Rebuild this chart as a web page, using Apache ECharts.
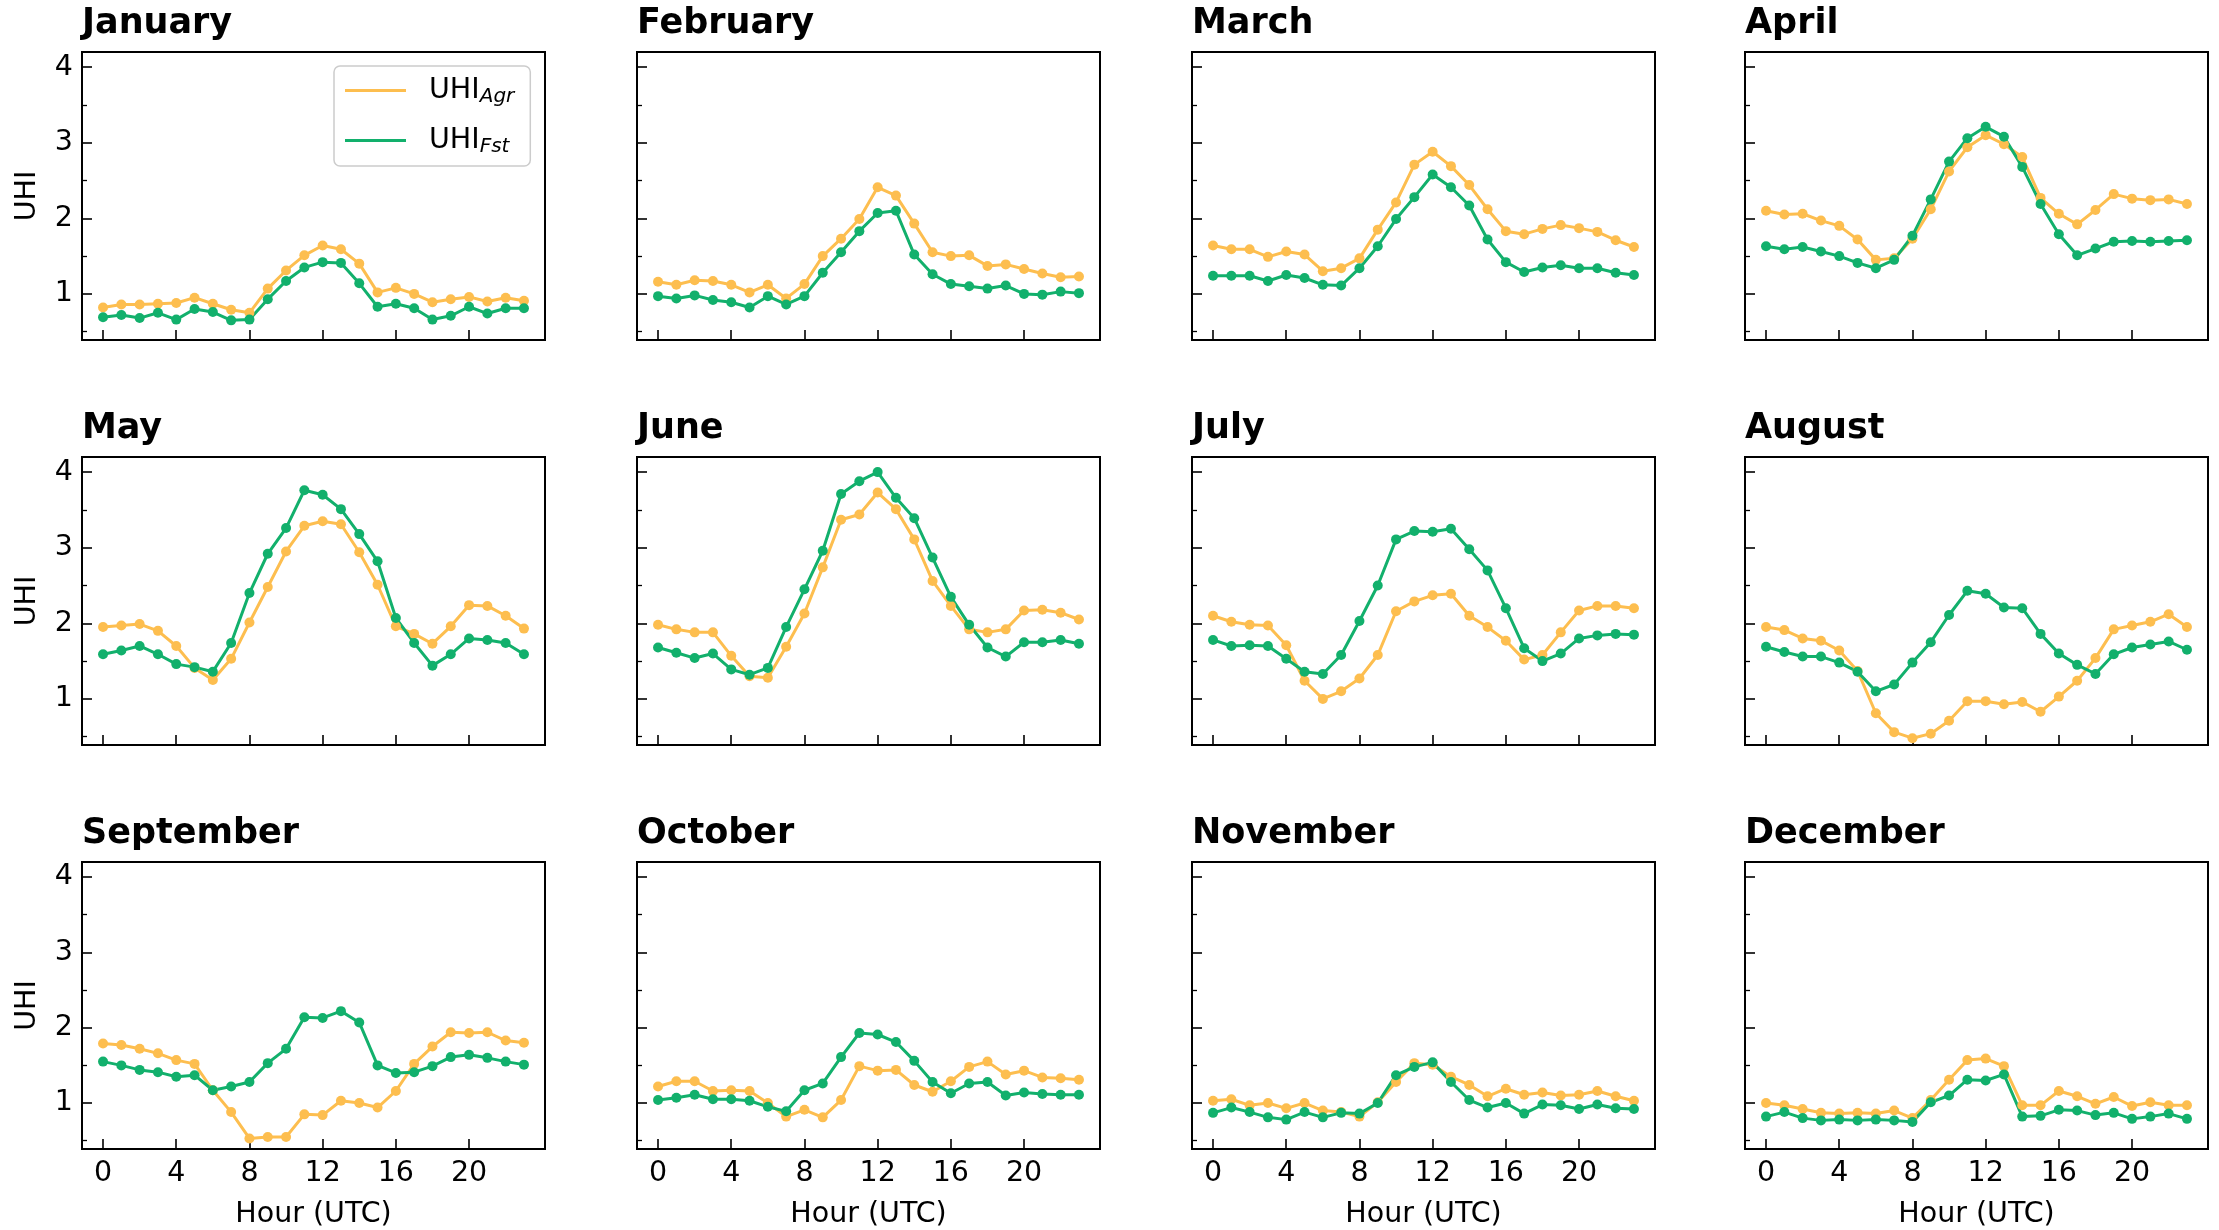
<!DOCTYPE html>
<html><head><meta charset="utf-8">
<script src="https://cdn.jsdelivr.net/npm/echarts@6/dist/echarts.min.js"></script>
<style>html,body{margin:0;padding:0;background:#fff}#c{width:2219px;height:1230px}</style>
</head><body><div id="c"></div>
<script>
const hours = [0,1,2,3,4,5,6,7,8,9,10,11,12,13,14,15,16,17,18,19,20,21,22,23];
const months = ['January','February','March','April','May','June','July','August','September','October','November','December'];
const xTickValues = [0,4,8,12,16,20];
const yTickValues = [1,2,3,4];
const yMinorTickValues = [0.5,1.5,2.5,3.5];

const agrJan = [0.82,0.86,0.86,0.87,0.88,0.95,0.87,0.79,0.75,1.07,1.31,1.51,1.64,1.59,1.40,1.02,1.08,1.00,0.89,0.93,0.96,0.90,0.95,0.91];
const fstJan = [0.69,0.72,0.68,0.75,0.66,0.80,0.76,0.65,0.66,0.93,1.17,1.35,1.42,1.41,1.14,0.83,0.87,0.81,0.66,0.71,0.83,0.74,0.81,0.81];
const agrFeb = [1.16,1.12,1.18,1.17,1.12,1.02,1.12,0.94,1.13,1.50,1.73,1.99,2.41,2.30,1.93,1.55,1.50,1.51,1.37,1.39,1.33,1.27,1.22,1.23];
const fstFeb = [0.97,0.94,0.98,0.92,0.89,0.82,0.97,0.86,0.97,1.28,1.55,1.83,2.07,2.10,1.52,1.26,1.13,1.10,1.07,1.11,1.00,0.99,1.03,1.01];
const agrMar = [1.64,1.59,1.59,1.49,1.56,1.52,1.30,1.34,1.47,1.85,2.21,2.71,2.88,2.69,2.44,2.12,1.83,1.79,1.86,1.91,1.87,1.82,1.71,1.62];
const fstMar = [1.24,1.24,1.24,1.17,1.25,1.21,1.12,1.11,1.34,1.63,1.99,2.28,2.58,2.41,2.17,1.72,1.42,1.29,1.35,1.38,1.34,1.34,1.28,1.25];
const agrApr = [2.10,2.05,2.06,1.97,1.90,1.72,1.45,1.47,1.73,2.12,2.62,2.94,3.10,2.98,2.81,2.27,2.06,1.92,2.11,2.32,2.26,2.24,2.25,2.19];
const fstApr = [1.63,1.59,1.62,1.56,1.50,1.41,1.34,1.45,1.77,2.25,2.75,3.06,3.21,3.08,2.68,2.19,1.79,1.51,1.60,1.69,1.70,1.69,1.70,1.71];
const agrMay = [1.95,1.97,1.99,1.90,1.70,1.41,1.25,1.53,2.01,2.48,2.95,3.29,3.35,3.31,2.94,2.51,1.96,1.86,1.73,1.96,2.24,2.23,2.10,1.93];
const fstMay = [1.59,1.64,1.70,1.59,1.46,1.42,1.36,1.74,2.40,2.92,3.26,3.76,3.70,3.51,3.18,2.82,2.07,1.74,1.44,1.59,1.80,1.78,1.74,1.59];
const agrJun = [1.98,1.92,1.88,1.88,1.57,1.30,1.28,1.69,2.13,2.74,3.37,3.44,3.73,3.51,3.11,2.56,2.23,1.92,1.88,1.92,2.17,2.18,2.14,2.05];
const fstJun = [1.68,1.61,1.54,1.60,1.39,1.32,1.41,1.95,2.45,2.96,3.71,3.88,4.00,3.66,3.39,2.87,2.35,1.98,1.68,1.56,1.75,1.75,1.78,1.73];
const agrJul = [2.10,2.02,1.98,1.97,1.71,1.24,1.00,1.10,1.27,1.58,2.16,2.29,2.37,2.39,2.10,1.95,1.77,1.52,1.58,1.88,2.17,2.23,2.23,2.20];
const fstJul = [1.78,1.70,1.71,1.70,1.53,1.36,1.33,1.58,2.03,2.50,3.11,3.22,3.21,3.25,2.98,2.70,2.20,1.67,1.50,1.60,1.80,1.84,1.86,1.85];
const agrAug = [1.95,1.91,1.80,1.77,1.64,1.37,0.81,0.56,0.48,0.54,0.71,0.97,0.97,0.93,0.96,0.83,1.03,1.24,1.54,1.92,1.97,2.02,2.12,1.95];
const fstAug = [1.69,1.62,1.56,1.56,1.48,1.36,1.10,1.19,1.48,1.75,2.11,2.43,2.39,2.21,2.20,1.86,1.60,1.45,1.33,1.59,1.68,1.72,1.76,1.65];
const agrSep = [1.79,1.77,1.72,1.66,1.57,1.52,1.17,0.88,0.53,0.55,0.55,0.85,0.84,1.03,1.00,0.94,1.16,1.52,1.75,1.94,1.93,1.94,1.83,1.80];
const fstSep = [1.55,1.50,1.44,1.41,1.35,1.37,1.17,1.22,1.28,1.53,1.72,2.14,2.13,2.22,2.07,1.50,1.40,1.41,1.49,1.61,1.64,1.60,1.55,1.51];
const agrOct = [1.22,1.29,1.29,1.16,1.17,1.16,1.00,0.82,0.91,0.81,1.04,1.49,1.43,1.44,1.24,1.15,1.29,1.48,1.55,1.38,1.43,1.34,1.33,1.31];
const fstOct = [1.04,1.07,1.11,1.05,1.05,1.03,0.95,0.89,1.17,1.26,1.61,1.93,1.91,1.81,1.56,1.28,1.13,1.26,1.28,1.10,1.14,1.12,1.11,1.11];
const agrNov = [1.03,1.05,0.97,1.00,0.93,1.00,0.90,0.88,0.82,1.01,1.28,1.53,1.51,1.35,1.24,1.09,1.19,1.11,1.14,1.10,1.11,1.16,1.09,1.03];
const fstNov = [0.87,0.94,0.88,0.81,0.78,0.88,0.81,0.87,0.86,1.00,1.37,1.48,1.54,1.28,1.04,0.94,1.00,0.86,0.98,0.97,0.92,0.98,0.93,0.92];
const agrDec = [1.00,0.97,0.92,0.87,0.86,0.87,0.86,0.90,0.80,1.04,1.31,1.57,1.59,1.49,0.97,0.97,1.16,1.09,0.99,1.08,0.96,1.01,0.97,0.97];
const fstDec = [0.82,0.88,0.80,0.77,0.78,0.77,0.78,0.77,0.75,1.01,1.10,1.31,1.30,1.38,0.82,0.83,0.91,0.90,0.84,0.87,0.79,0.82,0.86,0.79];

const agrSeries = [agrJan,agrFeb,agrMar,agrApr,agrMay,agrJun,agrJul,agrAug,agrSep,agrOct,agrNov,agrDec];
const fstSeries = [fstJan,fstFeb,fstMar,fstApr,fstMay,fstJun,fstJul,fstAug,fstSep,fstOct,fstNov,fstDec];

const FONT = 'DejaVu Sans';
const ORANGE = '#FDBE4F';
const GREEN = '#12B06C';
const colLeft = [82, 637, 1192, 1745];
const rowTop = [52, 457, 862];
const W = 463, H = 288;

const grid = [], xAxis = [], yAxis = [], series = [], title = [];
months.forEach((m, i) => {
  const r = Math.floor(i / 4), c = i % 4;
  grid.push({left: colLeft[c], top: rowTop[r], width: W, height: H, show: true,
    borderColor: '#000', borderWidth: 2, backgroundColor: 'transparent'});
  title.push({text: m, left: colLeft[c], top: rowTop[r] - 46, padding: 0,
    textStyle: {fontFamily: FONT, fontWeight: 'bold', fontSize: 35, color: '#000'}});
  xAxis.push({gridIndex: i, type: 'value', min: -1.15, max: 24.15, position: 'bottom',
    axisLine: {show: false, onZero: false}, splitLine: {show: false},
    axisTick: {show: true, inside: true, length: 10, lineStyle: {color: '#000', width: 1.6}, customValues: xTickValues},
    axisLabel: {show: r === 2, customValues: xTickValues, margin: 10, color: '#000', fontSize: 28.5, fontFamily: FONT},
    name: r === 2 ? 'Hour (UTC)' : '', nameLocation: 'middle', nameGap: 51,
    nameTextStyle: {fontFamily: FONT, fontSize: 28.5, color: '#000'}});
  yAxis.push({gridIndex: i, type: 'value', min: 0.39, max: 4.2, position: 'left', offset: 0,
    axisLine: {show: false, onZero: false}, splitLine: {show: false},
    axisTick: {show: true, inside: true, length: 10, lineStyle: {color: '#000', width: 1.6}, customValues: yTickValues},
    axisLabel: {show: c === 0, customValues: yTickValues, margin: 9, color: '#000', fontSize: 28.5, fontFamily: FONT},
    name: c === 0 ? 'UHI' : '', nameLocation: 'middle', nameGap: 40,
    nameTextStyle: {fontFamily: FONT, fontSize: 28.5, color: '#000'}});
  yAxis.push({gridIndex: i, type: 'value', min: 0.39, max: 4.2, position: 'left', offset: 0,
    axisLine: {show: false, onZero: false}, splitLine: {show: false},
    axisTick: {show: true, inside: true, length: 5, lineStyle: {color: '#000', width: 1.3}, customValues: yMinorTickValues},
    axisLabel: {show: false}});
  const mk = (name, arr, color) => ({
    name, type: 'line', xAxisIndex: i, yAxisIndex: 2 * i,
    data: hours.map((h, k) => [h, arr[k]]),
    symbol: 'circle', symbolSize: 10, showSymbol: true, clip: false,
    lineStyle: {color, width: 3}, itemStyle: {color},
    emphasis: {disabled: true}
  });
  series.push(mk('UHIAgr', agrSeries[i], ORANGE));
  series.push(mk('UHIFst', fstSeries[i], GREEN));
});

const chart = echarts.init(document.getElementById('c'), null, {renderer: 'canvas'});
chart.setOption({
  animation: false,
  backgroundColor: '#fff',
  title, grid, xAxis, yAxis, series,
  legend: {
    data: ['UHIAgr', 'UHIFst'], orient: 'vertical', left: 334, top: 66,
    icon: 'rect', itemWidth: 61, itemHeight: 3, itemGap: 17,
    padding: [8, 16, 9, 11],
    borderColor: '#cccccc', borderWidth: 1.5, borderRadius: 6,
    backgroundColor: 'rgba(255,255,255,0.8)',
    formatter: n => n === 'UHIAgr' ? '{a|UHI}{s|Agr}' : '{a|UHI}{s|Fst}',
    textStyle: {
      rich: {
        a: {fontFamily: FONT, fontSize: 28.5, color: '#000', lineHeight: 32, padding: [0, 0, 0, 18]},
        s: {fontFamily: FONT, fontSize: 20, fontStyle: 'italic', color: '#000', lineHeight: 20, padding: [13, 0, 0, 0]}
      }
    }
  }
});
</script></body></html>
